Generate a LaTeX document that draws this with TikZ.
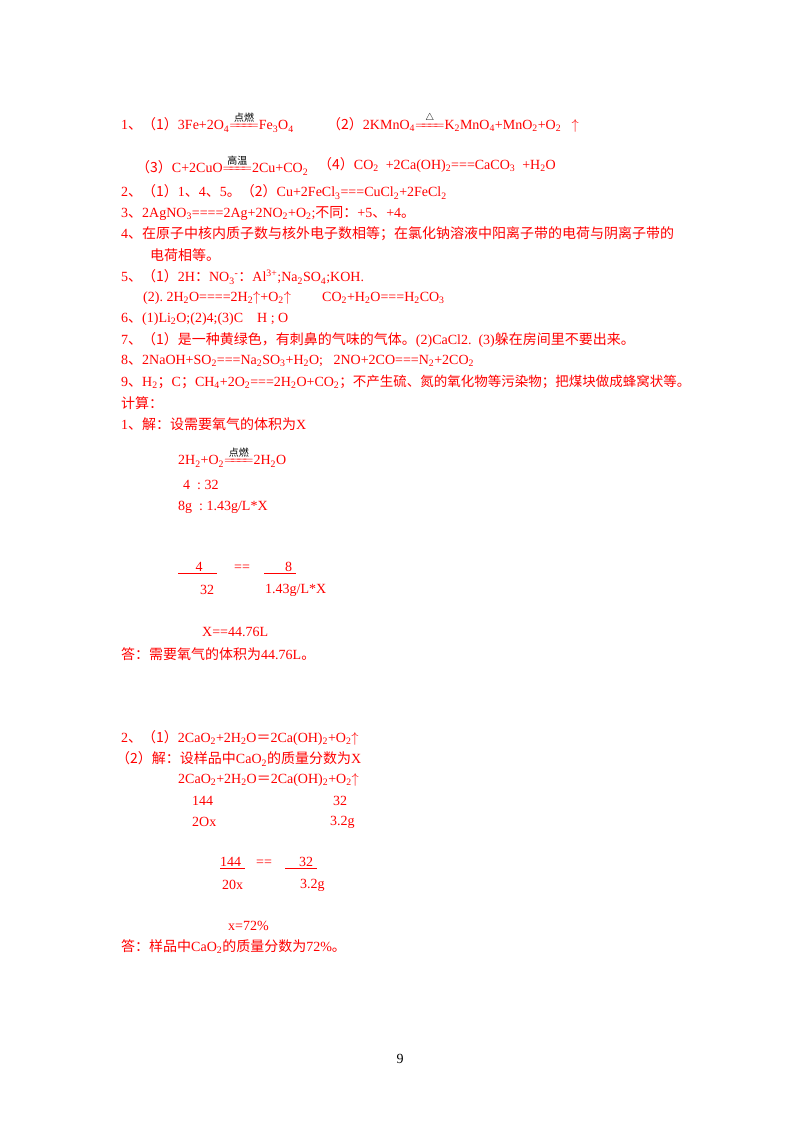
\documentclass[tikz,border=0pt]{standalone}
\usepackage{amsmath}
\usepackage{fontspec}
\setmainfont{Liberation Serif}
\newfontfamily\cjk{Noto Sans CJK SC}
\newcommand\dn[1]{\textsubscript{#1}}
\newcommand\up[1]{\textsuperscript{#1}}
\newcommand\cz[1]{{\cjk #1}}
\newcommand\cond[1]{$\overset{\text{\color{black}\cjk\fontsize{10}{10}\selectfont #1}}{=\!\!=\!\!=\!\!=}$}
\begin{document}
\begin{tikzpicture}[x=1pt,y=-1pt,every node/.style={anchor=west,inner sep=0pt,text=red,font=\fontsize{14}{16}\selectfont}]
\useasboundingbox (0,0) rectangle (800,1132);
\node (l1) at (121,122) {1\cz{、（1）}3Fe+2O\dn{4}\cond{点燃}Fe\dn{3}O\dn{4}};
\node (l1b) at (327,122) {\cz{（2）}2KMnO\dn{4}\cond{\ensuremath{\triangle}}K\dn{2}MnO\dn{4}+MnO\dn{2}+O\dn{2}\ \ \ $\uparrow$};
\node (l1c) at (136,165) {\cz{（3）}C+2CuO\cond{高温}2Cu+CO\dn{2}};
\node (l1d) at (318,165) {\cz{（4）}CO\dn{2}\ \ +2Ca(OH)\dn{2}===CaCO\dn{3}\ \ +H\dn{2}O};
\node (l2) at (121,192) {2\cz{、（1）}1\cz{、}4\cz{、}5\cz{。（2）}Cu+2FeCl\dn{3}===CuCl\dn{2}+2FeCl\dn{2}};
\node (l3) at (121,213) {3\cz{、}2AgNO\dn{3}====2Ag+2NO\dn{2}+O\dn{2};\cz{不同：}+5\cz{、}+4\cz{。}};
\node (l4) at (121,234) {4\cz{、在原子中核内质子数与核外电子数相等；在氯化钠溶液中阳离子带的电荷与阴离子带的}};
\node (l4b) at (150,255) {\cz{电荷相等。}};
\node (l5) at (121,277) {5\cz{、（1）}2H\cz{：}NO\dn{3}\up{-}\cz{：}Al\up{3+};Na\dn{2}SO\dn{4};KOH.};
\node (l5b) at (143,298) {(2).\ 2H\dn{2}O====2H\dn{2}$\uparrow$+O\dn{2}$\uparrow$};
\node (l5c) at (322,298) {CO\dn{2}+H\dn{2}O===H\dn{2}CO\dn{3}};
\node (l6) at (121,319) {6\cz{、}(1)Li\dn{2}O;(2)4;(3)C\ \ \ \ H\ ;\ O};
\node (l7) at (121,340) {7\cz{、（1）是一种黄绿色，有刺鼻的气味的气体。}(2)CaCl2.\ \ (3)\cz{躲在房间里不要出来。}};
\node (l8) at (121,361) {8\cz{、}2NaOH+SO\dn{2}===Na\dn{2}SO\dn{3}+H\dn{2}O;\ \ \ 2NO+2CO===N\dn{2}+2CO\dn{2}};
\node (l9) at (121,382) {9\cz{、}H\dn{2}\cz{；}C\cz{；}CH\dn{4}+2O\dn{2}===2H\dn{2}O+CO\dn{2}{\cjk\fontsize{13.5}{16}\selectfont ；不产生硫、氮的氧化物等污染物；把煤块做成蜂窝状等。}};
\node (js) at (121,403) {\cz{计算：}};
\node (a1) at (121,424) {1\cz{、解：设需要氧气的体积为}X};
\node (a2) at (178,457) {2H\dn{2}+O\dn{2}\cond{点燃}2H\dn{2}O};
\node (a3) at (183,485) {4\ \ :\ 32};
\node (a4) at (178,507) {8g\ \ :\ 1.43g/L*X};
\node (f1) at (178,568) {\underline{\ \ \ \ \ 4\ \ \ \ }};
\node (f2) at (234,568) {==};
\node (f3) at (264,568) {\underline{\ \ \ \ \ \ 8\ }};
\node (f4) at (200,590) {32};
\node (f5) at (265,590) {1.43g/L*X};
\node (xr) at (202,632) {X==44.76L};
\node (an1) at (121,654) {\cz{答：需要氧气的体积为}44.76L\cz{。}};
\node (b1) at (121,738) {2\cz{、（1）}2CaO\dn{2}+2H\dn{2}O\cz{＝}2Ca(OH)\dn{2}+O\dn{2}$\uparrow$};
\node (b2) at (116,759) {\cz{（2）解：设样品中}CaO\dn{2}\cz{的质量分数为}X};
\node (b3) at (178,780) {2CaO\dn{2}+2H\dn{2}O\cz{＝}2Ca(OH)\dn{2}+O\dn{2}$\uparrow$};
\node (b4) at (192,801) {144};
\node (b5) at (333,801) {32};
\node (b6) at (192,822) {2Ox};
\node (b7) at (330,822) {3.2g};
\node (g1) at (220,863) {\underline{144\ }};
\node (g2) at (256,863) {==};
\node (g3) at (285,863) {\underline{\ \ \ \ 32\ }};
\node (g4) at (222,885) {20x};
\node (g5) at (300,885) {3.2g};
\node (xr2) at (228,926) {x=72\%};
\node (an2) at (121,947) {\cz{答：样品中}CaO\dn{2}\cz{的质量分数为}72\%\cz{。}};
\node[text=black,anchor=center] (pg) at (400,1059) {9};
\end{tikzpicture}
\end{document}
